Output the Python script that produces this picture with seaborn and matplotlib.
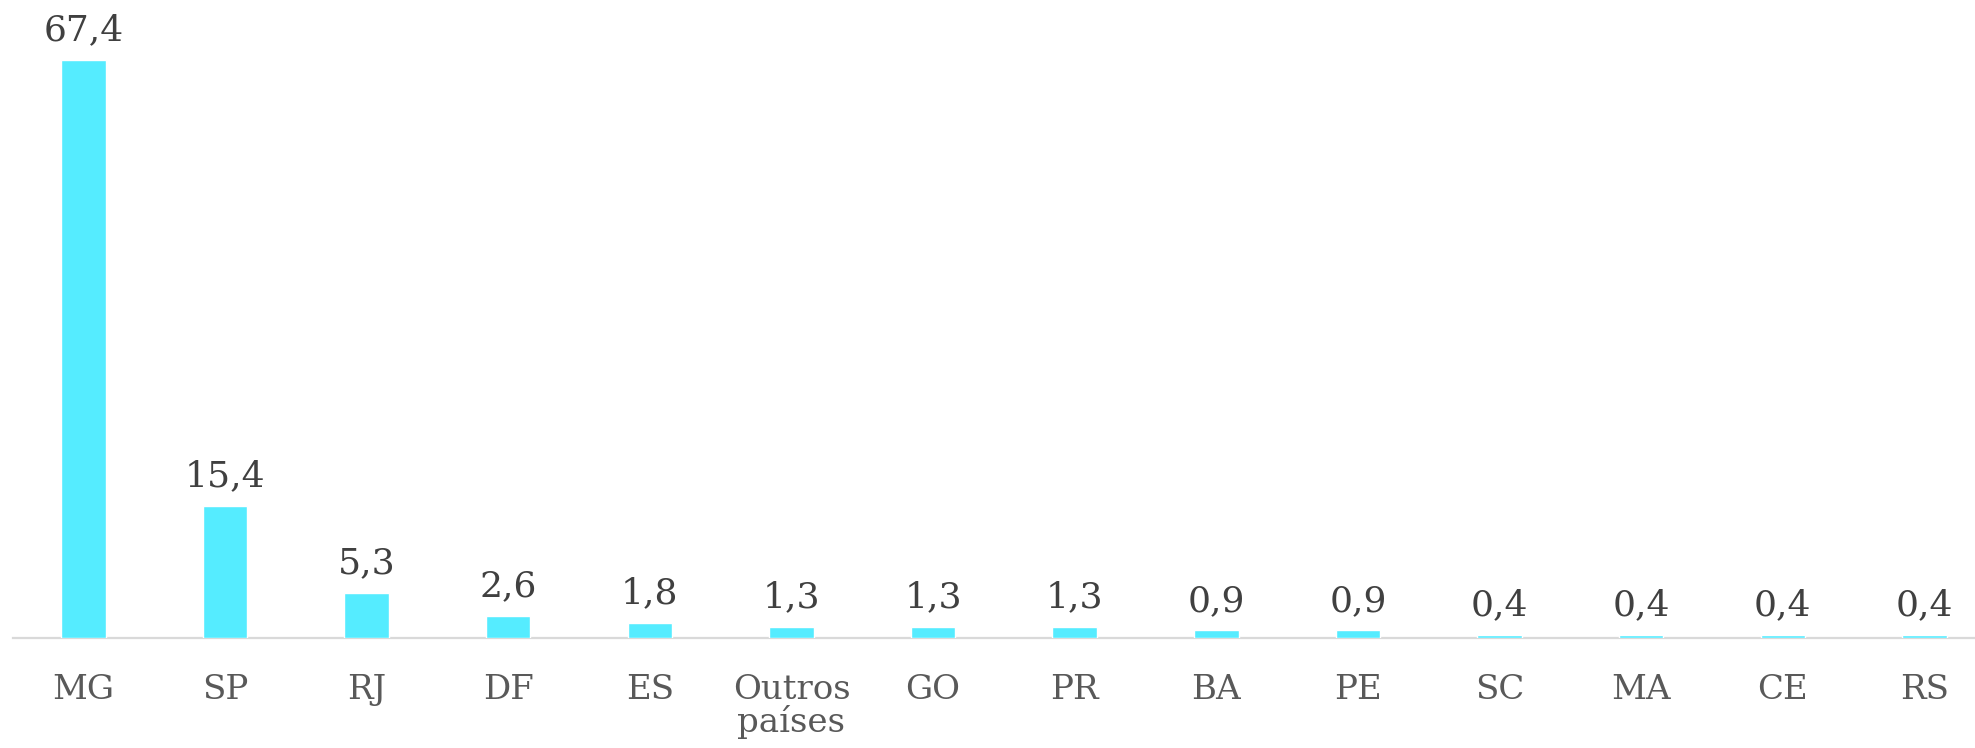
import matplotlib
matplotlib.use("Agg")
import matplotlib.pyplot as plt
import seaborn as sns

# origem dos alunos (%)
categories = ["MG", "SP", "RJ", "DF", "ES", "Outros\npaíses", "GO", "PR",
              "BA", "PE", "SC", "MA", "CE", "RS"]
values = [67.4, 15.4, 5.3, 2.6, 1.8, 1.3, 1.3, 1.3, 0.9, 0.9, 0.4, 0.4, 0.4, 0.4]

sns.set_style("white")
plt.rcParams["font.family"] = ["DejaVu Serif", "DejaVu Sans"]

fig = plt.figure(figsize=(19.75, 7.48), dpi=100)
ax = fig.add_axes([0.0064, 1 - 638 / 748, 1.0038, 635 / 748])

sns.barplot(x=categories, y=values, color="#55ECFF", saturation=1,
            width=0.314, ax=ax, zorder=3)

for i, v in enumerate(values):
    ax.annotate(f"{v:.1f}".replace(".", ","), (i, v), xytext=(0, 14),
                textcoords="offset points", ha="center", va="baseline",
                fontsize=26, color="#404040")

ax.set_xlim(-0.5, len(categories) - 0.5)
ax.set_ylim(0, 74)
ax.set_yticks([])
ax.set_xlabel("")
ax.set_ylabel("")
for s in ["top", "right", "left"]:
    ax.spines[s].set_visible(False)
ax.spines["bottom"].set_color("#D9D9D9")
ax.spines["bottom"].set_linewidth(1.6)
ax.spines["bottom"].set_zorder(1)
ax.tick_params(axis="x", length=0, pad=26, labelsize=24.5, labelcolor="#595959")
for lbl in ax.get_xticklabels():
    lbl.set_linespacing(0.95)

fig.savefig("out.png", dpi=100)
